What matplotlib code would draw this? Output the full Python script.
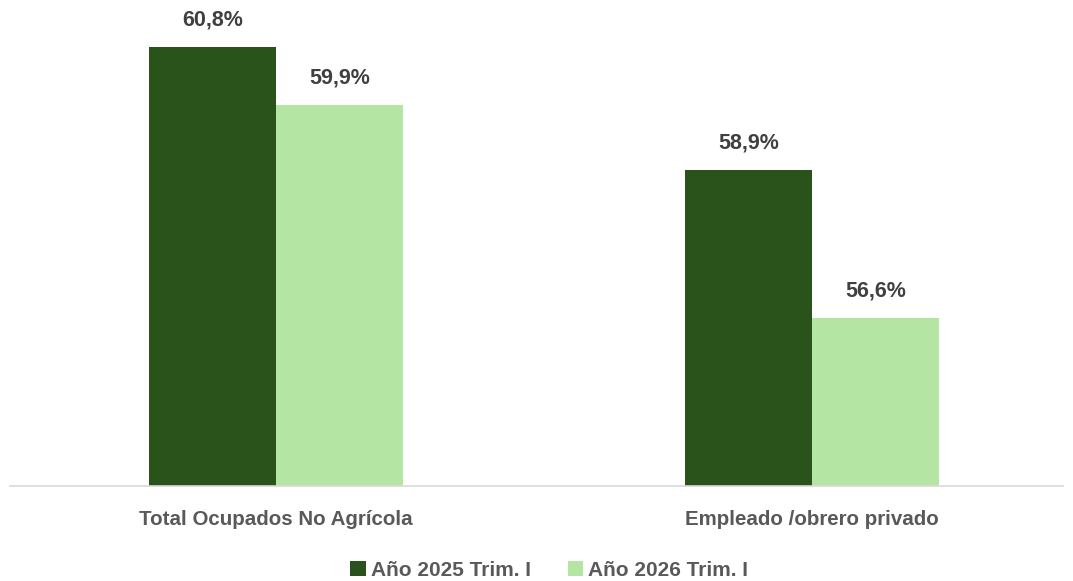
import matplotlib.pyplot as plt
import numpy as np

categories = ["Total Ocupados No Agrícola", "Empleado /obrero privado"]
series_names = ["Año 2025 Trim. I", "Año 2026 Trim. I"]
values_2025 = [60.8, 58.9]
values_2026 = [59.9, 56.6]

dark_green = "#29531a"
light_green = "#b5e5a3"

plt.rcParams['font.family'] = ['Liberation Sans', 'DejaVu Sans']

fig = plt.figure(figsize=(10.73, 5.81), dpi=100)
ax = fig.add_axes([10 / 1073, 1 - 486 / 581, 1053 / 1073, 486 / 581])

x = np.arange(len(categories))
w = 0.237
b1 = ax.bar(x - w / 2, values_2025, w, color=dark_green, label=series_names[0])
b2 = ax.bar(x + w / 2, values_2026, w, color=light_green, label=series_names[1])

for bars in (b1, b2):
    for r in bars:
        v = r.get_height()
        ax.annotate(f"{v:.1f}%".replace(".", ","),
                    (r.get_x() + r.get_width() / 2, v),
                    xytext=(0, 12), textcoords="offset points", ha="center", va="bottom",
                    fontsize=15.5, fontweight="bold", color="#404040")

ax.set_ylim(54, 61.53)
ax.set_xlim(-0.496, 1.468)
ax.set_yticks([])
ax.set_xticks(x)
ax.set_xticklabels(categories, fontsize=14.8, fontweight="bold", color="#595959")
ax.tick_params(axis="x", length=0, pad=17)
for s in ["top", "right", "left"]:
    ax.spines[s].set_visible(False)
ax.spines["bottom"].set_color("#d9d9d9")
ax.spines["bottom"].set_linewidth(1.2)

leg = fig.legend(loc="center", bbox_to_anchor=(0.512, 1 - 570 / 581), ncol=2, frameon=False,
                 prop={"size": 15, "weight": "bold"}, handlelength=0.75, handleheight=0.75,
                 handletextpad=0.25, columnspacing=1.75)
for t in leg.get_texts():
    t.set_color("#595959")

fig.savefig("out.png", dpi=100)
